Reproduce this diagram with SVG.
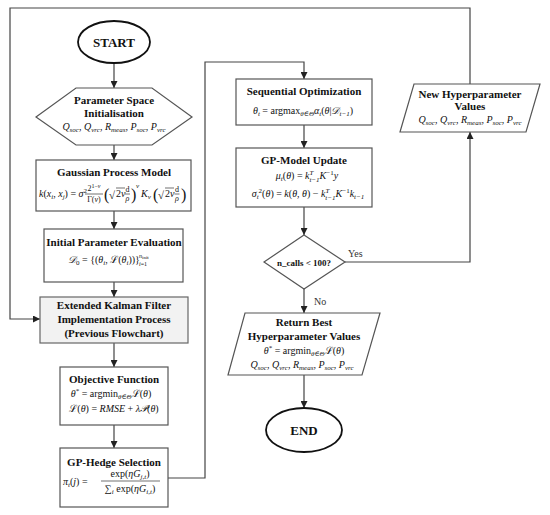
<svg xmlns="http://www.w3.org/2000/svg" width="550" height="515" viewBox="0 0 550 515">
<defs>
<style>
.bx{fill:#fff;stroke:#555;stroke-width:1.2}
.ek{fill:#f2f2f2;stroke:#666;stroke-width:1.2}
.term{fill:#fff;stroke:#111;stroke-width:1.8}
.c{fill:none;stroke:#444;stroke-width:1.2}
.t{font-family:"Liberation Serif",serif;font-weight:bold;font-size:11px;text-anchor:middle;fill:#111}
.big{font-size:13px}
.m{font-family:"Liberation Serif","DejaVu Serif",serif;font-size:10px;text-anchor:middle;fill:#111}
.st{text-anchor:start}
.i{font-style:italic}
.s{font-size:7px;font-style:italic}
.u{font-size:7px;font-style:normal}
.lb{font-family:"Liberation Serif",serif;font-size:10px;fill:#333}
.bar{stroke:#111;stroke-width:0.6}
</style>
<marker id="a" viewBox="0 0 10 10" refX="10" refY="5" markerWidth="7" markerHeight="7" orient="auto" markerUnits="userSpaceOnUse"><path d="M0,0 L10,5 L0,10 z" fill="#222"/></marker>
</defs>
<rect width="550" height="515" fill="#fff"/>

<g id="connectors">
<line class="c" x1="114" y1="63" x2="114" y2="88" marker-end="url(#a)"/>
<line class="c" x1="114" y1="145" x2="114" y2="160" marker-end="url(#a)"/>
<line class="c" x1="114" y1="211" x2="114" y2="229" marker-end="url(#a)"/>
<line class="c" x1="114" y1="282" x2="114" y2="297" marker-end="url(#a)"/>
<line class="c" x1="114" y1="343" x2="114" y2="367" marker-end="url(#a)"/>
<line class="c" x1="114" y1="425" x2="114" y2="448" marker-end="url(#a)"/>
<polyline class="c" points="168,478 205,478 205,62 304,62 304,79" marker-end="url(#a)"/>
<line class="c" x1="304" y1="125" x2="304" y2="148" marker-end="url(#a)"/>
<line class="c" x1="304" y1="207" x2="304" y2="235" marker-end="url(#a)"/>
<line class="c" x1="304" y1="289" x2="304" y2="313" marker-end="url(#a)"/>
<polyline class="c" points="345,262 470,262 470,132" marker-end="url(#a)"/>
<polyline class="c" points="470,84 470,8 10,8 10,319 40,319" marker-end="url(#a)"/>
<line class="c" x1="304" y1="375" x2="304" y2="408" marker-end="url(#a)"/>
<text class="lb" x="348" y="257">Yes</text>
<text class="lb" x="314" y="305">No</text>
</g>

<g id="start">
<ellipse class="term" cx="114" cy="42" rx="36" ry="21"/>
<text class="t big" x="114" y="47">START</text>
</g>

<g id="param-init">
<polygon class="bx" points="36,117 76,88 152,88 192,117 152,145 76,145"/>
<text class="t" x="114" y="104">Parameter Space</text>
<text class="t" x="114" y="117">Initialisation</text>
<text class="m" x="114" y="130"><tspan class="i">Q</tspan><tspan class="s" dy="2">soc</tspan><tspan dy="-2">, </tspan><tspan class="i">Q</tspan><tspan class="s" dy="2">vrc</tspan><tspan dy="-2">, </tspan><tspan class="i">R</tspan><tspan class="s" dy="2">meas</tspan><tspan dy="-2">, </tspan><tspan class="i">P</tspan><tspan class="s" dy="2">soc</tspan><tspan dy="-2">, </tspan><tspan class="i">P</tspan><tspan class="s" dy="2">vrc</tspan></text>
</g>

<g id="gp-model">
<rect class="bx" x="36" y="160" width="155" height="51"/>
<text class="t" x="114" y="176">Gaussian Process Model</text>
<text class="m st" x="39" y="197"><tspan class="i">k</tspan>(<tspan class="i">x</tspan><tspan class="s" dy="2">i</tspan><tspan dy="-2">, </tspan><tspan class="i">x</tspan><tspan class="s" dy="2">j</tspan><tspan dy="-2">) = </tspan><tspan class="i">σ</tspan><tspan class="u" dy="-4">2</tspan></text>
<text class="m" x="94" y="191" style="font-size:8px">2<tspan class="u" style="font-size:6px" dy="-3">1−<tspan class="i">ν</tspan></tspan></text>
<line class="bar" x1="85" y1="194" x2="103" y2="194"/>
<text class="m" x="94" y="202" style="font-size:8px">Γ(<tspan class="i">ν</tspan>)</text>
<text class="m st" x="104" y="200" style="font-size:16px">(</text>
<text class="m st" x="109" y="199" style="font-size:11px">√</text>
<line class="bar" x1="116" y1="188" x2="125" y2="188"/>
<text class="m st" x="116" y="197">2<tspan class="i">ν</tspan></text>
<text class="m" x="127.5" y="192" style="font-size:8px">d</text>
<line class="bar" x1="125" y1="194" x2="130" y2="194"/>
<text class="m i" x="127.5" y="201" style="font-size:8px">ρ</text>
<text class="m st" x="131" y="200" style="font-size:16px">)</text>
<text class="m i st" x="136" y="188" style="font-size:7px">ν</text>
<text class="m st" x="141" y="197"><tspan class="i">K</tspan><tspan class="s" dy="2">ν</tspan></text>
<text class="m st" x="153" y="200" style="font-size:16px">(</text>
<text class="m st" x="158" y="199" style="font-size:11px">√</text>
<line class="bar" x1="165" y1="188" x2="174" y2="188"/>
<text class="m st" x="165" y="197">2<tspan class="i">ν</tspan></text>
<text class="m" x="177" y="192" style="font-size:8px">d</text>
<line class="bar" x1="174.5" y1="194" x2="179.5" y2="194"/>
<text class="m i" x="177" y="201" style="font-size:8px">ρ</text>
<text class="m st" x="181" y="200" style="font-size:16px">)</text>
</g>

<g id="initial-eval">
<rect class="bx" x="44" y="229" width="139" height="53"/>
<text class="t" x="114" y="246">Initial Parameter Evaluation</text>
<text class="m st" x="68" y="263"><tspan class="i">𝒟</tspan><tspan class="u" dy="2">0</tspan><tspan dy="-2"> = {(</tspan><tspan class="i">θ</tspan><tspan class="s" dy="2">i</tspan><tspan dy="-2">, ℒ(</tspan><tspan class="i">θ</tspan><tspan class="s" dy="2">i</tspan><tspan dy="-2">))}</tspan></text>
<text class="m st" x="139" y="258" style="font-size:6px"><tspan class="i">n</tspan><tspan style="font-size:5px" dy="1">init</tspan></text>
<text class="m st" x="139" y="266" style="font-size:6px"><tspan class="i">i</tspan>=1</text>
</g>

<g id="ekf">
<rect class="ek" x="40" y="297" width="148" height="46"/>
<text class="t" x="114" y="309">Extended Kalman Filter</text>
<text class="t" x="114" y="323">Implementation Process</text>
<text class="t" x="114" y="337">(Previous Flowchart)</text>
</g>

<g id="objective">
<rect class="bx" x="60" y="367" width="108" height="58"/>
<text class="t" x="114" y="383">Objective Function</text>
<text class="m" x="111" y="397"><tspan class="i">θ</tspan><tspan class="u" dy="-4">*</tspan><tspan dy="4"> = argmin</tspan><tspan class="s" dy="2">θ∈Θ</tspan><tspan dy="-2">ℒ(</tspan><tspan class="i">θ</tspan>)</text>
<text class="m" x="114" y="412">ℒ(<tspan class="i">θ</tspan>) = <tspan class="i">RMSE</tspan> + <tspan class="i">λ𝒫</tspan>(<tspan class="i">θ</tspan>)</text>
</g>

<g id="gp-hedge">
<rect class="bx" x="60" y="448" width="108" height="59"/>
<text class="t" x="114" y="466">GP-Hedge Selection</text>
<text class="m st" x="63" y="485"><tspan class="i">π</tspan><tspan class="s" dy="2">t</tspan><tspan dy="-2">(</tspan><tspan class="i">j</tspan>) =</text>
<text class="m" x="130" y="477">exp(<tspan class="i">ηG</tspan><tspan class="s" dy="2">j,t</tspan><tspan dy="-2">)</tspan></text>
<line class="bar" x1="101" y1="481" x2="160" y2="481"/>
<text class="m" x="130" y="492">∑<tspan class="s" dy="2">i</tspan><tspan dy="-2"> exp(</tspan><tspan class="i">ηG</tspan><tspan class="s" dy="2">i,t</tspan><tspan dy="-2">)</tspan></text>
</g>

<g id="seq-opt">
<rect class="bx" x="236" y="79" width="136" height="46"/>
<text class="t" x="304" y="95">Sequential Optimization</text>
<text class="m" x="303" y="114"><tspan class="i">θ</tspan><tspan class="s" dy="2">t</tspan><tspan dy="-2"> = argmax</tspan><tspan class="s" dy="2">θ∈Θ</tspan><tspan class="i" dy="-2">α</tspan><tspan class="s" dy="2">t</tspan><tspan dy="-2">(</tspan><tspan class="i">θ</tspan>|<tspan class="i">𝒟</tspan><tspan class="s" dy="2">t−1</tspan><tspan dy="-2">)</tspan></text>
</g>

<g id="gp-update">
<rect class="bx" x="236" y="148" width="136" height="59"/>
<text class="t" x="304" y="164">GP-Model Update</text>
<text class="m" x="307" y="179"><tspan class="i">μ</tspan><tspan class="s" dy="2">t</tspan><tspan dy="-2">(</tspan><tspan class="i">θ</tspan>) = <tspan class="i">k</tspan><tspan class="s" dy="-4">T</tspan><tspan class="s" dx="-4" dy="7">t−1</tspan><tspan class="i" dy="-3">K</tspan><tspan class="u" dy="-4">−1</tspan><tspan class="i" dy="4">y</tspan></text>
<text class="m" x="308" y="197"><tspan class="i">σ</tspan><tspan class="s" dy="2">t</tspan><tspan class="u" dy="-6">2</tspan><tspan dy="4">(</tspan><tspan class="i">θ</tspan>) = <tspan class="i">k</tspan>(<tspan class="i">θ</tspan>, <tspan class="i">θ</tspan>) − <tspan class="i">k</tspan><tspan class="s" dy="-4">T</tspan><tspan class="s" dx="-4" dy="7">t−1</tspan><tspan class="i" dy="-3">K</tspan><tspan class="u" dy="-4">−1</tspan><tspan class="i" dy="4">k</tspan><tspan class="s" dy="2">t−1</tspan></text>
</g>

<g id="decision">
<polygon class="bx" points="304,235 345,262 304,289 264,262"/>
<text class="t" x="304" y="266" style="font-size:9px">n_calls &lt; 100?</text>
</g>

<g id="new-hyper">
<polygon class="bx" points="414,84 540,84 526,132 400,132"/>
<text class="t" x="470" y="98">New Hyperparameter</text>
<text class="t" x="470" y="110">Values</text>
<text class="m" x="470" y="123"><tspan class="i">Q</tspan><tspan class="s" dy="2">soc</tspan><tspan dy="-2">, </tspan><tspan class="i">Q</tspan><tspan class="s" dy="2">vrc</tspan><tspan dy="-2">, </tspan><tspan class="i">R</tspan><tspan class="s" dy="2">meas</tspan><tspan dy="-2">, </tspan><tspan class="i">P</tspan><tspan class="s" dy="2">soc</tspan><tspan dy="-2">, </tspan><tspan class="i">P</tspan><tspan class="s" dy="2">vrc</tspan></text>
</g>

<g id="return-best">
<polygon class="bx" points="245,313 380,313 362,375 228,375"/>
<text class="t" x="304" y="326">Return Best</text>
<text class="t" x="304" y="340">Hyperparameter Values</text>
<text class="m" x="304" y="354"><tspan class="i">θ</tspan><tspan class="u" dy="-4">*</tspan><tspan dy="4"> = argmin</tspan><tspan class="s" dy="2">θ∈Θ</tspan><tspan dy="-2">ℒ(</tspan><tspan class="i">θ</tspan>)</text>
<text class="m" x="302" y="368"><tspan class="i">Q</tspan><tspan class="s" dy="2">soc</tspan><tspan dy="-2">, </tspan><tspan class="i">Q</tspan><tspan class="s" dy="2">vrc</tspan><tspan dy="-2">, </tspan><tspan class="i">R</tspan><tspan class="s" dy="2">meas</tspan><tspan dy="-2">, </tspan><tspan class="i">P</tspan><tspan class="s" dy="2">soc</tspan><tspan dy="-2">, </tspan><tspan class="i">P</tspan><tspan class="s" dy="2">vrc</tspan></text>
</g>

<g id="end">
<ellipse class="term" cx="304" cy="430" rx="38" ry="22"/>
<text class="t big" x="304" y="435">END</text>
</g>
</svg>
